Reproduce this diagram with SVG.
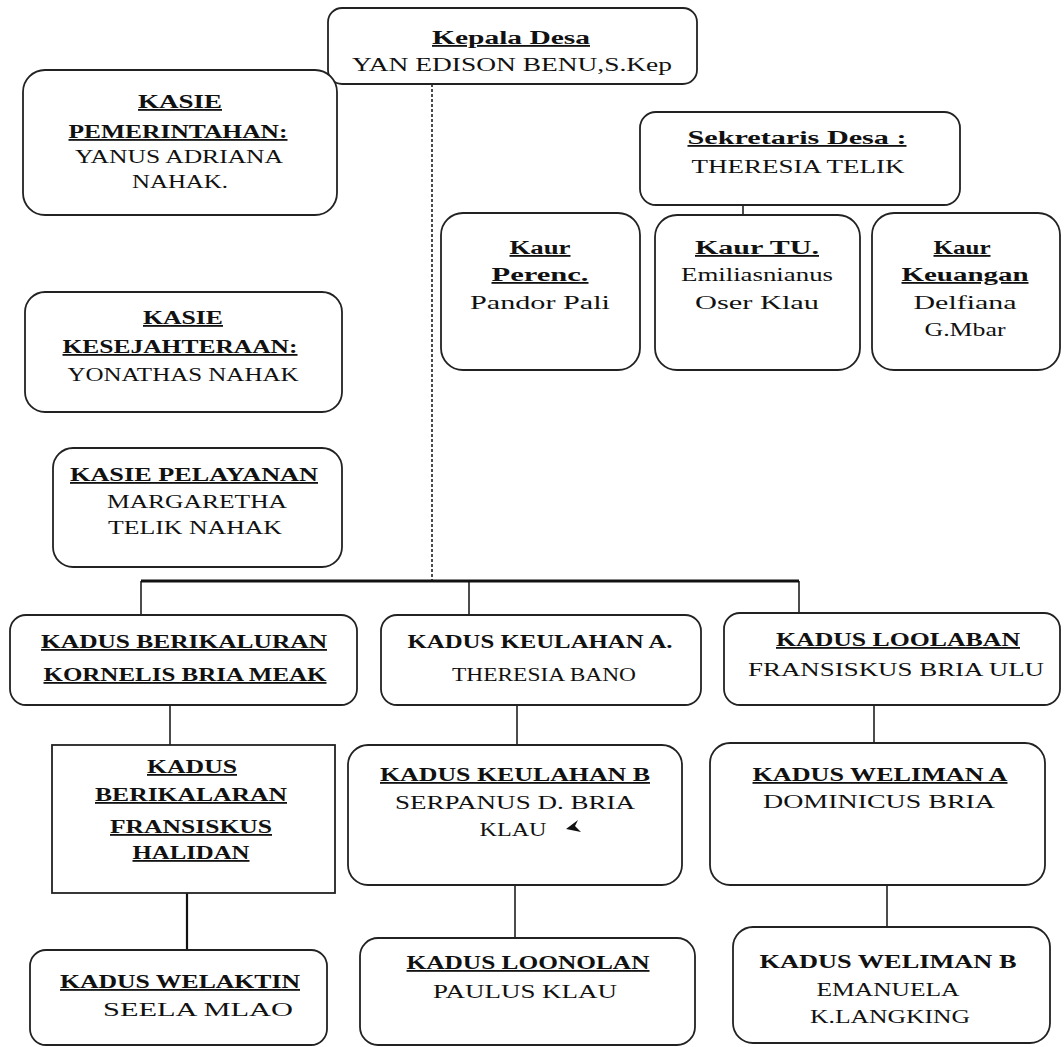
<svg xmlns="http://www.w3.org/2000/svg" width="1064" height="1047" viewBox="0 0 1064 1047">
<style>
.box{fill:#fff;stroke:#222;stroke-width:1.8}
.h{font-family:"Liberation Serif",serif;font-size:18px;font-weight:bold;text-decoration:underline;text-anchor:middle;fill:#111}
.b{font-family:"Liberation Serif",serif;font-size:18px;font-weight:bold;text-anchor:middle;fill:#111}
.n{font-family:"Liberation Serif",serif;font-size:18px;text-anchor:middle;fill:#111}
.c line{stroke:#111;stroke-width:1.5}
</style>
<rect width="1064" height="1047" fill="#fff"/>
<g class="c" id="connectors">
<line x1="432" y1="84" x2="432" y2="580" stroke-dasharray="3,2"/>
<line x1="141" y1="581" x2="799" y2="581" style="stroke-width:3"/>
<line x1="141" y1="581" x2="141" y2="615"/>
<line x1="469" y1="581" x2="469" y2="615"/>
<line x1="799" y1="581" x2="799" y2="613"/>
<line x1="743" y1="205" x2="743" y2="266"/>
<line x1="170" y1="705" x2="170" y2="745"/>
<line x1="187" y1="893" x2="187" y2="950" style="stroke-width:2.2"/>
<line x1="517" y1="705" x2="517" y2="745"/>
<line x1="515" y1="885" x2="515" y2="938"/>
<line x1="874" y1="705" x2="874" y2="743"/>
<line x1="887" y1="885" x2="887" y2="927"/>
</g>
<g id="kepala-desa">
<rect class="box" x="328" y="8" width="369" height="76" rx="14"/>
<text class="h" x="511" y="44" textLength="158" lengthAdjust="spacingAndGlyphs">Kepala Desa</text>
<text class="n" x="512" y="71" textLength="320" lengthAdjust="spacingAndGlyphs">YAN EDISON BENU,S.Kep</text>
</g>
<g id="kasie-pemerintahan">
<rect class="box" x="23" y="70" width="314" height="145" rx="22"/>
<text class="h" x="180" y="108" textLength="84" lengthAdjust="spacingAndGlyphs">KASIE</text>
<text class="h" x="178" y="138" textLength="219" lengthAdjust="spacingAndGlyphs">PEMERINTAHAN:</text>
<text class="n" x="179" y="163" textLength="208" lengthAdjust="spacingAndGlyphs">YANUS ADRIANA</text>
<text class="n" x="180" y="188" textLength="96" lengthAdjust="spacingAndGlyphs">NAHAK.</text>
</g>
<g id="kasie-kesejahteraan">
<rect class="box" x="25" y="292" width="317" height="120" rx="20"/>
<text class="h" x="183" y="324" textLength="80" lengthAdjust="spacingAndGlyphs">KASIE</text>
<text class="h" x="180" y="353" textLength="235" lengthAdjust="spacingAndGlyphs">KESEJAHTERAAN:</text>
<text class="n" x="183" y="381" textLength="231" lengthAdjust="spacingAndGlyphs">YONATHAS NAHAK</text>
</g>
<g id="kasie-pelayanan">
<rect class="box" x="53" y="448" width="289" height="119" rx="20"/>
<text class="h" x="194" y="481" textLength="248" lengthAdjust="spacingAndGlyphs">KASIE PELAYANAN</text>
<text class="n" x="197" y="508" textLength="180" lengthAdjust="spacingAndGlyphs">MARGARETHA</text>
<text class="n" x="195" y="534" textLength="174" lengthAdjust="spacingAndGlyphs">TELIK NAHAK</text>
</g>
<g id="sekretaris-desa">
<rect class="box" x="640" y="112" width="320" height="93" rx="16"/>
<text class="h" x="797" y="144" textLength="219" lengthAdjust="spacingAndGlyphs">Sekretaris Desa :</text>
<text class="n" x="798" y="173" textLength="213" lengthAdjust="spacingAndGlyphs">THERESIA TELIK</text>
</g>
<g id="kaur-perencanaan">
<rect class="box" x="441" y="213" width="199" height="157" rx="22"/>
<text class="h" x="540" y="254" textLength="61" lengthAdjust="spacingAndGlyphs">Kaur</text>
<text class="h" x="540" y="281" textLength="97" lengthAdjust="spacingAndGlyphs">Perenc.</text>
<text class="n" x="540" y="309" textLength="140" lengthAdjust="spacingAndGlyphs">Pandor Pali</text>
</g>
<g id="kaur-tu">
<rect class="box" x="655" y="215" width="205" height="155" rx="22"/>
<text class="h" x="757" y="254" textLength="124" lengthAdjust="spacingAndGlyphs">Kaur  TU.</text>
<text class="n" x="757" y="281" textLength="152" lengthAdjust="spacingAndGlyphs">Emiliasnianus</text>
<text class="n" x="757" y="309" textLength="124" lengthAdjust="spacingAndGlyphs">Oser Klau</text>
</g>
<g id="kaur-keuangan">
<rect class="box" x="872" y="213" width="188" height="157" rx="22"/>
<text class="h" x="962" y="254" textLength="57" lengthAdjust="spacingAndGlyphs">Kaur</text>
<text class="h" x="965" y="281" textLength="127" lengthAdjust="spacingAndGlyphs">Keuangan</text>
<text class="n" x="965" y="309" textLength="103" lengthAdjust="spacingAndGlyphs">Delfiana</text>
<text class="n" x="965" y="336" textLength="81" lengthAdjust="spacingAndGlyphs">G.Mbar</text>
</g>
<g id="kadus-berikaluran">
<rect class="box" x="10" y="615" width="347" height="90" rx="16"/>
<text class="h" x="184" y="648" textLength="286" lengthAdjust="spacingAndGlyphs">KADUS BERIKALURAN</text>
<text class="h" x="185" y="681" textLength="283" lengthAdjust="spacingAndGlyphs">KORNELIS BRIA MEAK</text>
</g>
<g id="kadus-keulahan-a">
<rect class="box" x="381" y="615" width="320" height="90" rx="16"/>
<text class="b" x="540" y="648" textLength="265" lengthAdjust="spacingAndGlyphs">KADUS KEULAHAN A.</text>
<text class="n" x="544" y="681" textLength="184" lengthAdjust="spacingAndGlyphs">THERESIA BANO</text>
</g>
<g id="kadus-loolaban">
<rect class="box" x="724" y="613" width="336" height="92" rx="16"/>
<text class="h" x="898" y="646" textLength="244" lengthAdjust="spacingAndGlyphs">KADUS LOOLABAN</text>
<text class="n" x="896" y="676" textLength="296" lengthAdjust="spacingAndGlyphs">FRANSISKUS BRIA ULU</text>
</g>
<g id="kadus-berikalaran">
<rect class="box" x="52" y="745" width="283" height="148"/>
<text class="h" x="192" y="773" textLength="90" lengthAdjust="spacingAndGlyphs">KADUS</text>
<text class="h" x="191" y="801" textLength="192" lengthAdjust="spacingAndGlyphs">BERIKALARAN</text>
<text class="h" x="191" y="833" textLength="162" lengthAdjust="spacingAndGlyphs">FRANSISKUS</text>
<text class="h" x="191" y="859" textLength="117" lengthAdjust="spacingAndGlyphs">HALIDAN</text>
</g>
<g id="kadus-keulahan-b">
<rect class="box" x="348" y="745" width="334" height="140" rx="20"/>
<text class="h" x="515" y="781" textLength="270" lengthAdjust="spacingAndGlyphs">KADUS KEULAHAN B</text>
<text class="n" x="515" y="809" textLength="240" lengthAdjust="spacingAndGlyphs">SERPANUS D. BRIA</text>
<text class="n" x="513" y="836" textLength="67" lengthAdjust="spacingAndGlyphs">KLAU</text>
<path d="M566 829 L578 820 L575 826 L581 832 Z" fill="#111"/>
</g>
<g id="kadus-weliman-a">
<rect class="box" x="710" y="743" width="335" height="142" rx="20"/>
<text class="h" x="880" y="781" textLength="255" lengthAdjust="spacingAndGlyphs">KADUS WELIMAN A</text>
<text class="n" x="879" y="808" textLength="232" lengthAdjust="spacingAndGlyphs">DOMINICUS BRIA</text>
</g>
<g id="kadus-welaktin">
<rect class="box" x="30" y="950" width="297" height="95" rx="16"/>
<text class="h" x="180" y="988" textLength="240" lengthAdjust="spacingAndGlyphs">KADUS WELAKTIN</text>
<text class="n" x="198" y="1016" textLength="190" lengthAdjust="spacingAndGlyphs">SEELA MLAO</text>
</g>
<g id="kadus-loonolan">
<rect class="box" x="360" y="938" width="335" height="107" rx="18"/>
<text class="h" x="528" y="969" textLength="243" lengthAdjust="spacingAndGlyphs">KADUS LOONOLAN</text>
<text class="n" x="525" y="998" textLength="184" lengthAdjust="spacingAndGlyphs">PAULUS KLAU</text>
</g>
<g id="kadus-weliman-b">
<rect class="box" x="733" y="927" width="317" height="116" rx="20"/>
<text class="b" x="888" y="968" textLength="257" lengthAdjust="spacingAndGlyphs">KADUS WELIMAN B</text>
<text class="n" x="888" y="996" textLength="143" lengthAdjust="spacingAndGlyphs">EMANUELA</text>
<text class="n" x="890" y="1023" textLength="160" lengthAdjust="spacingAndGlyphs">K.LANGKING</text>
</g>
</svg>
